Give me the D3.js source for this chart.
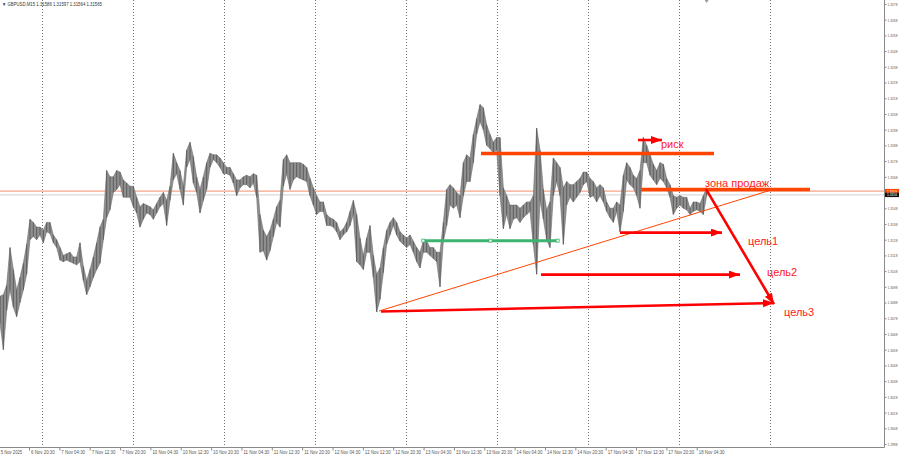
<!DOCTYPE html>
<html><head><meta charset="utf-8">
<script src="https://cdn.jsdelivr.net/npm/d3@7"></script>
<style>html,body{margin:0;padding:0;background:#fff;}svg{display:block}</style>
</head><body>
<svg id="c" width="900" height="457"></svg>
<script>
// ---------- DATA ----------
const symbol = "GBPUSD,M15";
const headerOHLC = ["1.31586", "1.31597", "1.31564", "1.31565"];

const highs = [
1.3092,1.3093,1.3099,1.3123,1.3109,1.3096,1.3104,1.3113,1.3125,1.3141,
1.3139,1.3136,1.3136,1.3134,1.3139,1.3139,1.3131,1.3128,1.3123,1.3118,
1.3119,1.3120,1.3117,1.3117,1.3126,1.3111,1.3102,1.3109,1.3117,1.3126,
1.3136,1.3141,1.3172,1.3168,1.3168,1.3172,1.3171,1.3166,1.3164,1.3162,
1.3162,1.3155,1.3149,1.3151,1.3150,1.3149,1.3147,1.3151,1.3155,1.3158,
1.3153,1.3162,1.3183,1.3177,1.3172,1.3162,1.3185,1.3190,1.3181,1.3168,
1.3160,1.3168,1.3177,1.3183,1.3182,1.3182,1.3180,1.3177,1.3174,1.3174,
1.3170,1.3166,1.3166,1.3168,1.3169,1.3168,1.3170,1.3169,1.3144,1.3134,
1.3130,1.3134,1.3141,1.3149,1.3153,1.3179,1.3182,1.3177,1.3177,1.3177,
1.3177,1.3176,1.3174,1.3167,1.3161,1.3156,1.3152,1.3152,1.3144,1.3142,
1.3141,1.3139,1.3133,1.3135,1.3139,1.3146,1.3153,1.3144,1.3129,1.3118,
1.3129,1.3137,1.3118,1.3106,1.3110,1.3123,1.3134,1.3139,1.3142,1.3139,
1.3133,1.3131,1.3129,1.3131,1.3127,1.3123,1.3120,1.3127,1.3127,1.3123,
1.3123,1.3120,1.3120,1.3139,1.3160,1.3163,1.3161,1.3158,1.3156,1.3177,
1.3182,1.3180,1.3195,1.3205,1.3214,1.3212,1.3201,1.3195,1.3190,1.3193,
1.3193,1.3161,1.3156,1.3150,1.3150,1.3150,1.3148,1.3150,1.3152,1.3152,
1.3156,1.3199,1.3185,1.3160,1.3147,1.3152,1.3180,1.3177,1.3174,1.3161,
1.3165,1.3163,1.3163,1.3165,1.3167,1.3171,1.3171,1.3167,1.3165,1.3161,
1.3163,1.3161,1.3152,1.3148,1.3148,1.3152,1.3150,1.3169,1.3177,1.3174,
1.3169,1.3167,1.3172,1.3193,1.3188,1.3182,1.3176,1.3172,1.3177,1.3176,
1.3167,1.3163,1.3156,1.3155,1.3156,1.3155,1.3155,1.3148,1.3152,1.3152,
1.3151,1.3156,1.3161
];
const lows = [
1.3075,1.3058,1.3083,1.3096,1.3085,1.3079,1.3088,1.3096,1.3106,1.3128,
1.3130,1.3128,1.3131,1.3126,1.3133,1.3132,1.3126,1.3123,1.3115,1.3114,
1.3115,1.3114,1.3113,1.3112,1.3114,1.3102,1.3093,1.3098,1.3104,1.3109,
1.3113,1.3128,1.3142,1.3147,1.3158,1.3160,1.3163,1.3155,1.3155,1.3155,
1.3149,1.3145,1.3136,1.3141,1.3145,1.3144,1.3141,1.3145,1.3149,1.3151,
1.3137,1.3153,1.3166,1.3170,1.3160,1.3150,1.3174,1.3179,1.3164,1.3158,
1.3145,1.3153,1.3160,1.3174,1.3179,1.3177,1.3174,1.3170,1.3170,1.3169,
1.3164,1.3156,1.3161,1.3163,1.3163,1.3161,1.3164,1.3155,1.3120,1.3121,
1.3115,1.3121,1.3130,1.3139,1.3136,1.3162,1.3170,1.3160,1.3166,1.3168,
1.3167,1.3166,1.3165,1.3156,1.3150,1.3144,1.3146,1.3146,1.3137,1.3137,
1.3136,1.3133,1.3128,1.3131,1.3133,1.3137,1.3144,1.3114,1.3112,1.3109,
1.3120,1.3120,1.3104,1.3082,1.3090,1.3107,1.3125,1.3131,1.3137,1.3131,
1.3127,1.3125,1.3123,1.3125,1.3120,1.3114,1.3110,1.3120,1.3120,1.3118,
1.3116,1.3114,1.3098,1.3127,1.3137,1.3150,1.3148,1.3150,1.3142,1.3156,
1.3165,1.3165,1.3177,1.3195,1.3203,1.3198,1.3188,1.3186,1.3183,1.3185,
1.3156,1.3135,1.3144,1.3135,1.3141,1.3142,1.3139,1.3142,1.3144,1.3146,
1.3125,1.3106,1.3153,1.3141,1.3128,1.3123,1.3156,1.3165,1.3156,1.3125,
1.3150,1.3155,1.3152,1.3155,1.3158,1.3163,1.3165,1.3155,1.3156,1.3152,
1.3156,1.3152,1.3146,1.3142,1.3139,1.3146,1.3133,1.3146,1.3166,1.3163,
1.3161,1.3156,1.3148,1.3177,1.3177,1.3169,1.3166,1.3163,1.3167,1.3165,
1.3161,1.3155,1.3144,1.3148,1.3150,1.3148,1.3147,1.3144,1.3146,1.3147,
1.3146,1.3144,1.3156
];

const timeLabels = ["5 Nov 2025","6 Nov 20:30","7 Nov 04:30","7 Nov 12:30","7 Nov 20:30",
  "10 Nov 04:30","10 Nov 12:30","10 Nov 20:30","11 Nov 04:30","11 Nov 12:30",
  "11 Nov 20:30","12 Nov 04:30","12 Nov 12:30","12 Nov 20:30","13 Nov 04:30",
  "13 Nov 12:30","13 Nov 20:30","14 Nov 04:30","14 Nov 12:30","14 Nov 20:30",
  "17 Nov 04:30","17 Nov 12:30","17 Nov 20:30","18 Nov 04:30"];

const priceTicks = [1.2998,1.3008,1.3018,1.3028,1.3038,1.3048,1.3058,1.3068,1.3078,1.3088,
  1.3098,1.3108,1.3118,1.3128,1.3138,1.3148,1.3158,1.3168,1.3178,1.3188,
  1.3198,1.3208,1.3218,1.3228,1.3238,1.3248,1.3258,1.3268,1.3278];

// drawn objects: [startIndex, endIndex, price]
const levelLine = 1.31589;   // thin horizontal line
const bidPrice = 1.31565;
const riskLine = [144.3, 214.2, 1.31828];
const sellLine = [192.4, 243.0, 1.31599];
const greenLine = [127.0, 167.3, 1.31274];
// trendline [i0,p0,i1,p1]
const trendLine = [113.7, 1.30826, 231.3, 1.31596];
// arrows [i0,p0,i1,p1]
const arrows = [
  [114.3, 1.30823, 232.2, 1.30877],
  [211.8, 1.31602, 232.2, 1.30870],
  [186.0, 1.31325, 216.6, 1.31325],
  [162.3, 1.31058, 222.0, 1.31058],
  [191.4, 1.31914, 198.6, 1.31914]
];
const notes = [
  ["риск", 198.3, 1.31863],
  ["зона продаж", 211.5, 1.31615],
  ["цель1", 224.4, 1.31246],
  ["цель2", 230.1, 1.31049],
  ["цель3", 235.2, 1.30794]
];

// ---------- LAYOUT ----------
const W = 900, H = 457, axisX = 884, axisY = 447;
const svg = d3.select("#c");
const x = d3.scaleLinear().domain([0, highs.length - 1]).range([0, 706.67]);
const y = d3.scaleLinear().domain([1.29961, 1.32805]).range([axisY, 0]);
const FONT = "Liberation Sans, Arial, sans-serif";

svg.append("rect").attr("width", W).attr("height", H).attr("fill", "#fff");

// vertical dotted grid (daily)
const gridIdx = d3.range(9).map(k => 12.6 + 27.3 * k);
svg.append("g").selectAll("line").data(gridIdx).join("line")
  .attr("x1", d => Math.round(x(d)) + 0.5).attr("x2", d => Math.round(x(d)) + 0.5)
  .attr("y1", 0).attr("y2", axisY)
  .attr("stroke", "#707070").attr("stroke-width", 1).attr("stroke-dasharray", "1,2");

// level lines
svg.append("line").attr("x1", 0).attr("x2", axisX).attr("y1", y(levelLine)).attr("y2", y(levelLine))
  .attr("stroke", "#f5a589").attr("stroke-width", 1.2);
svg.append("line").attr("x1", 0).attr("x2", axisX).attr("y1", y(bidPrice)).attr("y2", y(bidPrice))
  .attr("stroke", "#d2d2d2").attr("stroke-width", 1);

// price bars
const idx = d3.range(highs.length);
svg.append("path").datum(idx)
  .attr("d", d3.area().x(i => x(i)).y0(i => y(lows[i])).y1(i => y(highs[i])))
  .attr("fill", "#8f8f8f").attr("stroke", "#6e6e6e").attr("stroke-width", 0.6);
svg.append("g").selectAll("line").data(idx).join("line")
  .attr("x1", i => x(i)).attr("x2", i => x(i))
  .attr("y1", i => y(highs[i])).attr("y2", i => y(lows[i]))
  .attr("stroke", "#585858").attr("stroke-width", 0.9);

// thick horizontal drawn lines
function hline(l, color, w) {
  svg.append("line").attr("x1", x(l[0])).attr("x2", x(l[1]))
    .attr("y1", y(l[2])).attr("y2", y(l[2]))
    .attr("stroke", color).attr("stroke-width", w);
}
hline(riskLine, "#ff4500", 3.5);
hline(sellLine, "#ff4500", 3.5);
hline(greenLine, "#3cb371", 3);
[greenLine[0], (greenLine[0] + greenLine[1]) / 2, greenLine[1]].forEach(i => {
  svg.append("rect").attr("x", x(i) - 1.5).attr("y", y(greenLine[2]) - 1.5)
    .attr("width", 3).attr("height", 3).attr("fill", "#fff").attr("stroke", "#3cb371").attr("stroke-width", 0.8);
});

// trend line
svg.append("line").attr("x1", x(trendLine[0])).attr("y1", y(trendLine[1]))
  .attr("x2", x(trendLine[2])).attr("y2", y(trendLine[3]))
  .attr("stroke", "#ff4500").attr("stroke-width", 1);

// arrows
svg.append("defs").append("marker").attr("id", "ah")
  .attr("markerUnits", "userSpaceOnUse").attr("markerWidth", 12).attr("markerHeight", 10)
  .attr("refX", 11).attr("refY", 4).attr("orient", "auto")
  .append("path").attr("d", "M0,0 L11,4 L0,8 Z").attr("fill", "#ff0000");
svg.append("g").selectAll("line").data(arrows).join("line")
  .attr("x1", d => x(d[0])).attr("y1", d => y(d[1]))
  .attr("x2", d => x(d[2])).attr("y2", d => y(d[3]))
  .attr("stroke", "#ff0000").attr("stroke-width", 2.6)
  .attr("marker-end", "url(#ah)");

// text notes
svg.append("g").selectAll("text").data(notes).join("text")
  .attr("x", d => x(d[1])).attr("y", d => y(d[2]))
  .attr("font-family", FONT).attr("font-size", 11).attr("fill", "#ff1a1a")
  .text(d => d[0]);

// frame
svg.append("line").attr("x1", axisX + 0.5).attr("x2", axisX + 0.5).attr("y1", 0).attr("y2", axisY + 0.5)
  .attr("stroke", "#8a8a8a");
svg.append("line").attr("x1", 0).attr("x2", axisX + 0.5).attr("y1", axisY + 0.5).attr("y2", axisY + 0.5)
  .attr("stroke", "#8a8a8a");

// price axis (labels hidden where the price tags sit)
const shownTicks = priceTicks.filter(p => Math.abs(y(p) - y(levelLine)) > 4 && Math.abs(y(p) - y(bidPrice)) > 4);
const pa = svg.append("g").attr("transform", `translate(${axisX + 0.5},0)`)
  .call(d3.axisRight(y).tickValues(shownTicks).tickSize(2).tickSizeOuter(0).tickFormat(d3.format(".4f")));
pa.select(".domain").remove();
pa.selectAll("line").attr("stroke", "#8a8a8a");
pa.selectAll("text").attr("font-family", FONT).attr("font-size", 4.4).attr("fill", "#555")
  .attr("x", 3).attr("textLength", 10).attr("lengthAdjust", "spacingAndGlyphs");

// current price tags
function tag(p, bg, txt) {
  const g = svg.append("g").attr("transform", `translate(${axisX + 1},${y(p)})`);
  g.append("rect").attr("x", 0).attr("y", -2.2).attr("width", 14).attr("height", 4.4).attr("fill", bg);
  g.append("text").attr("x", 2).attr("y", 1.4).attr("font-family", FONT).attr("font-size", 3.8)
    .attr("fill", "#fff").attr("textLength", 10).attr("lengthAdjust", "spacingAndGlyphs").text(txt);
}
tag(levelLine, "#ff4500", d3.format(".4f")(levelLine));
tag(bidPrice, "#111", d3.format(".4f")(bidPrice));

// time axis
const tickIdx = timeLabels.map((_, k) => -0.4 + 9.105 * k);
const ta = svg.append("g").attr("transform", `translate(0,${axisY + 0.5})`)
  .call(d3.axisBottom(x).tickValues(tickIdx).tickSize(3).tickSizeOuter(0).tickFormat((d, k) => timeLabels[k]));
ta.select(".domain").remove();
ta.selectAll("line").attr("stroke", "#8a8a8a");
ta.selectAll("text").attr("font-family", FONT).attr("font-size", 4.8).attr("fill", "#555")
  .attr("text-anchor", "start").attr("dx", 1.5).attr("y", 3).attr("dy", "0.71em")
  .attr("textLength", (d, k) => timeLabels[k].length * 2.15).attr("lengthAdjust", "spacingAndGlyphs");

// header
const hdr = "\u25BC " + symbol + "  " + headerOHLC.join(" ");
svg.append("text").attr("x", 2).attr("y", 5.5).attr("font-family", FONT).attr("font-size", 4.8)
  .attr("fill", "#333").attr("textLength", 100).attr("lengthAdjust", "spacingAndGlyphs").text(hdr);

// chart shift marker
svg.append("path").attr("d", `M${x(highs.length - 1) - 2},0 L${x(highs.length - 1) + 2},0 L${x(highs.length - 1)},3 Z`)
  .attr("fill", "#9a9a9a");
</script>
</body></html>
